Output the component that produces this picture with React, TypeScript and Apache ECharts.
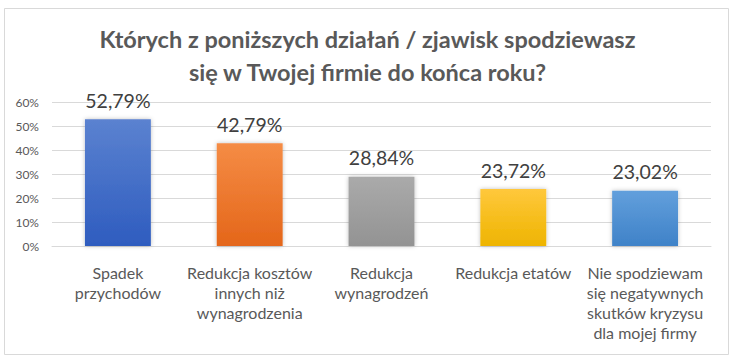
import React, { useEffect, useRef } from "react";
import * as echarts from "echarts";

const categories: string[] = [
  "Spadek\nprzychodów",
  "Redukcja kosztów\ninnych niż\nwynagrodzenia",
  "Redukcja\nwynagrodzeń",
  "Redukcja etatów",
  "Nie spodziewam\nsię negatywnych\nskutków kryzysu\ndla mojej firmy",
];
const values: number[] = [52.79, 42.79, 28.84, 23.72, 23.02];
const barTopColors: string[] = ["#5b82d0", "#f58c45", "#aaaaaa", "#ffc83c", "#629fdc"];
const barBottomColors: string[] = ["#2e5cbf", "#e4661a", "#939393", "#eeb400", "#3f82c8"];
const titleText = "Których z poniższych działań / zjawisk spodziewasz\nsię w Twojej firmie do końca roku?";

export default function App() {
  const ref = useRef<HTMLDivElement>(null);
  useEffect(() => {
    if (!ref.current) return;
    const chart = echarts.init(ref.current, undefined, { renderer: "svg" });
    chart.setOption({
      animation: false,
      backgroundColor: "#ffffff",
      textStyle: { fontFamily: "Lato" },
      title: {
        text: titleText,
        left: "center",
        top: 17,
        textStyle: {
          fontFamily: "Lato",
          fontSize: 23.5,
          fontWeight: "bold",
          color: "#595959",
          lineHeight: 33,
        },
      },
      graphic: [
        {
          type: "rect",
          shape: { x: 4.5, y: 8.5, width: 724, height: 346 },
          style: { fill: "none", stroke: "#d9d9d9", lineWidth: 1 },
          silent: true,
        },
      ],
      grid: { left: 52, right: 24, top: 102, bottom: 115, containLabel: false },
      xAxis: {
        type: "category",
        data: categories,
        axisLine: { show: true, lineStyle: { color: "#d9d9d9", width: 1 } },
        axisTick: { show: false },
        axisLabel: {
          interval: 0,
          color: "#595959",
          fontFamily: "Lato",
          fontSize: 16,
          lineHeight: 20,
          margin: 16,
          align: "center",
        },
      },
      yAxis: {
        type: "value",
        min: 0,
        max: 60,
        interval: 10,
        axisLine: { show: false },
        axisTick: { show: false },
        axisLabel: {
          formatter: "{value}%",
          color: "#595959",
          fontFamily: "Lato",
          fontSize: 12,
          margin: 13,
        },
        splitLine: { lineStyle: { color: "#d9d9d9", width: 1 } },
      },
      series: [
        {
          type: "bar",
          barWidth: "50%",
          data: values.map((v, i) => ({
            value: v,
            itemStyle: {
              color: new echarts.graphic.LinearGradient(0, 0, 0, 1, [
                { offset: 0, color: barTopColors[i] },
                { offset: 1, color: barBottomColors[i] },
              ]),
              shadowColor: "rgba(0,0,0,0.25)",
              shadowBlur: 4,
            },
          })),
          label: {
            show: true,
            position: "top",
            distance: 9,
            color: "#404040",
            fontFamily: "Lato",
            fontSize: 19.5,
            formatter: (p: any) => p.value.toFixed(2).replace(".", ",") + "%",
          },
        },
      ],
    });
    return () => chart.dispose();
  }, []);
  return (
    <div
      ref={ref}
      style={{ position: "absolute", left: 0, top: 0, width: 735, height: 361 }}
    />
  );
}
